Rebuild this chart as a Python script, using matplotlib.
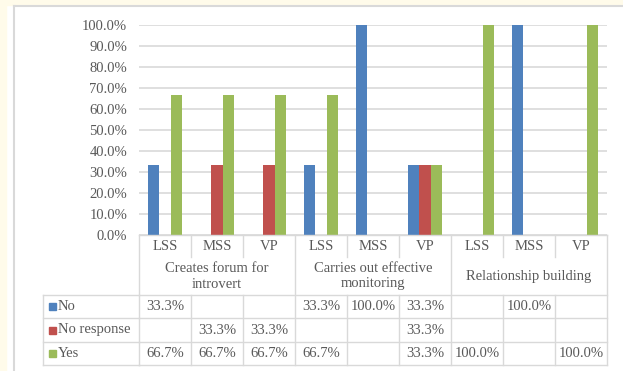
import numpy as np
import matplotlib
matplotlib.use("Agg")
import matplotlib.pyplot as plt
from matplotlib.transforms import blended_transform_factory
from matplotlib.lines import Line2D
from matplotlib.patches import Rectangle

groups = ["Creates forum for\nintrovert", "Carries out effective\nmonitoring", "Relationship building"]
roles = ["LSS", "MSS", "VP"]
series_names = ["No", "No response", "Yes"]
no_vals = [0.333, np.nan, np.nan, 0.333, 1.0, 0.333, np.nan, 1.0, np.nan]
noresp_vals = [np.nan, 0.333, 0.333, np.nan, np.nan, 0.333, np.nan, np.nan, np.nan]
yes_vals = [0.667, 0.667, 0.667, 0.667, np.nan, 0.333, 1.0, np.nan, 1.0]
colors = ["#4F81BD", "#C0504D", "#9BBB59"]
yticks = [0.0, 0.1, 0.2, 0.3, 0.4, 0.5, 0.6, 0.7, 0.8, 0.9, 1.0]

W, H = 623, 371
fig = plt.figure(figsize=(W / 100, H / 100), dpi=100, facecolor="white")
plt.rcParams['font.family'] = ['Liberation Serif', 'DejaVu Serif']
txt = "#595959"
grid = "#D9D9D9"
fs = 10.5

def fy(p):
    return 1 - p / H

def fx(p):
    return p / W

# background decorations
fig.patches.append(Rectangle((0, 0), fx(6), 1, transform=fig.transFigure, color="#FFFBEA", zorder=0))
fig.patches.append(Rectangle((0, fy(5)), 1, fy(0) - fy(5), transform=fig.transFigure, color="#FFFBEA", zorder=0))
fig.lines.append(Line2D([fx(14), fx(14)], [0, fy(6)], transform=fig.transFigure, color="#D9D9D9", lw=1.5))
fig.lines.append(Line2D([fx(14), 1], [fy(6), fy(6)], transform=fig.transFigure, color="#D9D9D9", lw=1.5))

x_left, x_right = 139, 607
y_top, y_bot = 24.7, 235
ax = fig.add_axes([fx(x_left), fy(y_bot), fx(x_right - x_left), (y_bot - y_top) / H])
n = len(no_vals)
x = np.arange(n)
w = 0.22
all_series = [no_vals, noresp_vals, yes_vals]
for i, (vals, c) in enumerate(zip(all_series, colors)):
    ax.bar(x + (i - 1) * w, np.nan_to_num(vals), width=w, color=c, zorder=3)
ax.set_xlim(-0.5, n - 0.5)
ax.set_ylim(0, 1.0)
ax.set_yticks(yticks)
ax.set_yticklabels([f"{v*100:.1f}%" for v in yticks], color=txt, fontsize=fs)
ax.tick_params(axis="y", length=0, pad=8.5)
ax.set_xticks([])
for v in yticks:
    ax.axhline(v, color=grid, lw=1.2, zorder=1)
for s in ax.spines.values():
    s.set_visible(False)

tr = blended_transform_factory(ax.transData, fig.transFigure)
lc = "#D9D9D9"
lw = 1.0

def hline(x0, x1, yp, trans=tr):
    fig.lines.append(Line2D([x0, x1], [fy(yp), fy(yp)], transform=trans, color=lc, lw=lw))

def vline(xd, y0, y1, trans=tr):
    fig.lines.append(Line2D([xd, xd], [fy(y0), fy(y1)], transform=trans, color=lc, lw=lw))

row_y = [235, 257, 295, 318, 342, 365]
hline(-0.5, n - 0.5, row_y[0])
trf = fig.transFigure
for yp in row_y[2:]:
    fig.lines.append(Line2D([fx(43), fx(x_left)], [fy(yp), fy(yp)], transform=trf, color=lc, lw=lw))
    hline(-0.5, n - 0.5, yp)
vline_f = lambda xp, y0, y1: fig.lines.append(Line2D([fx(xp), fx(xp)], [fy(y0), fy(y1)], transform=trf, color=lc, lw=lw))
vline_f(43, row_y[2], row_y[5])
for b in range(n + 1):
    xb = b - 0.5
    if b % 3 == 0:
        vline(xb, row_y[0], row_y[5])
    else:
        vline(xb, row_y[0], row_y[1])
        vline(xb, row_y[2], row_y[5])

for i in range(n):
    fig.text(i, fy(246), roles[i % 3], transform=tr, ha="center", va="center", color=txt, fontsize=fs)
for g, name in enumerate(groups):
    fig.text(g * 3 + 1, fy(276.5), name, transform=tr, ha="center", va="center", color=txt,
             fontsize=fs, linespacing=1.2)

for r, (vals, c, name) in enumerate(zip(all_series, colors, series_names)):
    yc = (row_y[2 + r] + row_y[3 + r]) / 2
    fig.patches.append(Rectangle((fx(49), fy(yc + 3.5)), fx(7), 7 / H, transform=trf, color=c))
    fig.text(fx(58), fy(yc), name, transform=trf, ha="left", va="center", color=txt, fontsize=fs)
    for i, v in enumerate(vals):
        if not np.isnan(v):
            fig.text(i, fy(yc), f"{v*100:.1f}%", transform=tr, ha="center", va="center", color=txt, fontsize=fs)

fig.savefig("out.png", dpi=100, facecolor="white")
